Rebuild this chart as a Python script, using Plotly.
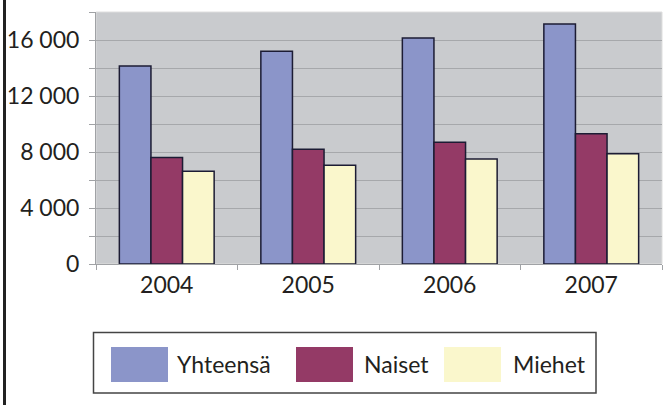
import plotly.graph_objects as go

years = ["2004", "2005", "2006", "2007"]
series_names = ["Yhteensä", "Naiset", "Miehet"]
yhteensa = [14150, 15200, 16150, 17150]
naiset = [7600, 8200, 8700, 9300]
miehet = [6620, 7060, 7500, 7870]
series_values = [yhteensa, naiset, miehet]
colors = ["#8b95c9", "#943a66", "#faf7cc"]
y_tick_vals = [0, 4000, 8000, 12000, 16000]
y_tick_text = ["0", "4 000", "8 000", "12 000", "16 000"]

W, H = 667, 405
L, R, T, B = 96, 662, 12, 264  # plot area in pixels

FONT = "Lato"
TXT = "#231f20"

fig = go.Figure()
for name, vals, col in zip(series_names, series_values, colors):
    fig.add_trace(go.Bar(
        x=years, y=vals, name=name, marker_color=col,
        marker_line_color="#1c1c34", marker_line_width=1.5,
        showlegend=False, hoverinfo="skip",
    ))

def px(xp):
    return (xp - L) / (R - L)

def py(yp):
    return (B - yp) / (B - T)

shapes = []
annotations = []
# left black border line
shapes.append(dict(type="line", xref="paper", yref="paper",
                   x0=px(4.5), x1=px(4.5), y0=py(0), y1=py(H),
                   line=dict(color="#222222", width=3)))
# light plot border (top/right)
shapes.append(dict(type="rect", xref="paper", yref="paper",
                   x0=0, x1=1, y0=0, y1=1,
                   line=dict(color="#dedede", width=1), layer="below"))
# custom legend box
shapes.append(dict(type="rect", xref="paper", yref="paper",
                   x0=px(93.5), x1=px(596), y0=py(393), y1=py(332.5),
                   line=dict(color="#444444", width=1.5), fillcolor="white"))
sw_x = [111, 296, 444]
tx_x = [175, 362, 511]
for name, col, sx, tx in zip(series_names, colors, sw_x, tx_x):
    shapes.append(dict(type="rect", xref="paper", yref="paper",
                       x0=px(sx), x1=px(sx + 57), y0=py(382), y1=py(347),
                       line=dict(width=0), fillcolor=col))
    annotations.append(dict(xref="paper", yref="paper", x=px(tx), y=py(364),
                            text=name, showarrow=False, xanchor="left",
                            yanchor="middle",
                            font=dict(family=FONT, size=23, color=TXT)))

fig.update_layout(
    width=W, height=H,
    margin=dict(l=L, r=W - R, t=T, b=H - B, pad=0),
    paper_bgcolor="white",
    plot_bgcolor="#c9cbce",
    barmode="group",
    bargap=0.33,
    bargroupgap=0,
    font=dict(family=FONT, size=23, color=TXT),
    shapes=shapes,
    annotations=annotations,
    showlegend=False,
    hovermode=False,
)
fig.update_xaxes(
    type="category",
    showgrid=False,
    showline=True, linecolor="#a0a2a5", linewidth=1,
    ticks="outside", tickson="boundaries", ticklen=5, tickcolor="#a0a2a5",
    tickfont=dict(family=FONT, size=23, color=TXT),
)
fig.update_yaxes(
    range=[0, 18000],
    tickvals=y_tick_vals, ticktext=y_tick_text,
    showgrid=True, gridcolor="#a6a8ab", gridwidth=1,
    showline=True, linecolor="#a0a2a5", linewidth=1,
    ticks="outside", ticklen=6, tickcolor="#a0a2a5",
    minor=dict(dtick=2000, showgrid=True, gridcolor="#a6a8ab",
               ticks="outside", ticklen=6, tickcolor="#a0a2a5"),
    zeroline=False,
    ticklabelstandoff=5,
    tickfont=dict(family=FONT, size=23, color=TXT),
)

fig.write_html(
    "out.html",
    config={"displayModeBar": False},
    post_script="document.body.style.margin='0';document.body.style.overflow='hidden';",
)
